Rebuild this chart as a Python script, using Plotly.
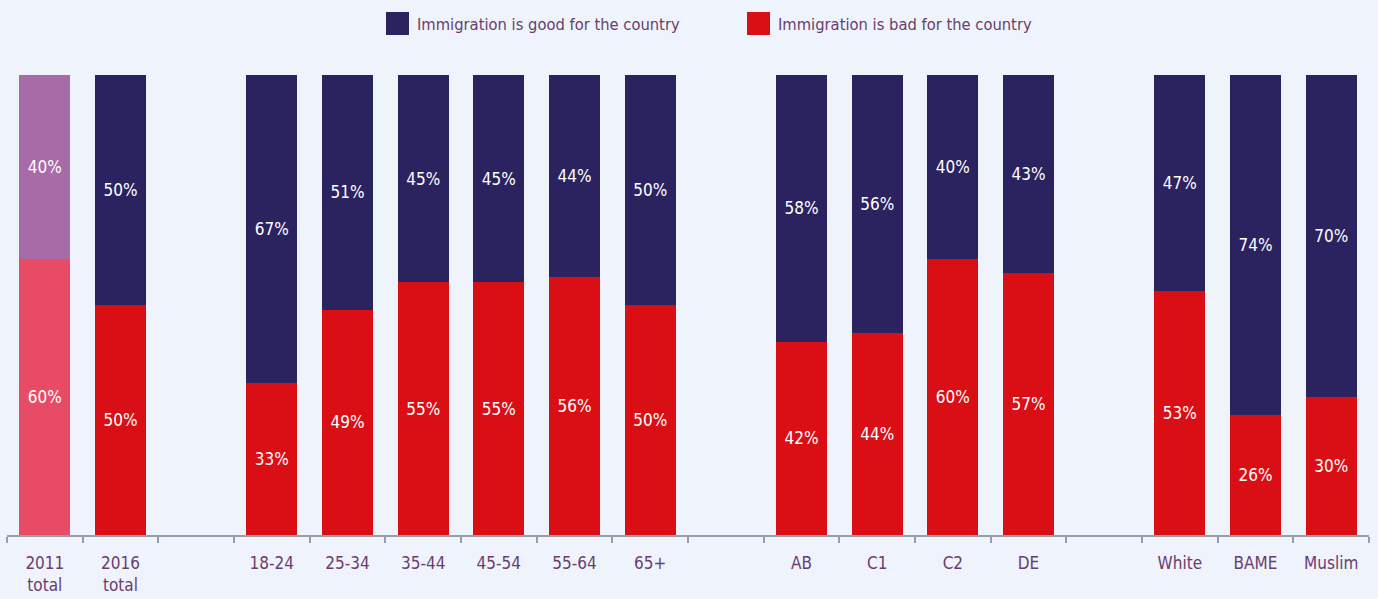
import plotly.graph_objects as go

# Survey groups; an empty slot separates each group on the axis
groups = [
    ["2011<br>total", "2016<br>total"],
    ["18-24", "25-34", "35-44", "45-54", "55-64", "65+"],
    ["AB", "C1", "C2", "DE"],
    ["White", "BAME", "Muslim"],
]
good = [40, 50, 67, 51, 45, 45, 44, 50, 58, 56, 40, 43, 47, 74, 70]
bad = [60, 50, 33, 49, 55, 55, 56, 50, 42, 44, 60, 57, 53, 26, 30]
series_names = ["Immigration is good for the country", "Immigration is bad for the country"]

NAVY = "#2B2360"
RED = "#DA0F15"
NAVY_2011 = "#A86BA8"
RED_2011 = "#E84B65"
TEXT = "#6A3D6E"
BG = "#EFF3FB"
AXIS = "#9C9CB0"
FONT = "Liberation Sans Narrow, DejaVu Sans Condensed, Arial Narrow, sans-serif"

W, H = 1378, 599
ML, MR, MT, MB = 7, 9, 75, 64
PW, PH = W - ML - MR, H - MT - MB

# slot positions, leaving one empty slot between groups
labels, xpos = [], []
pos = 0
for gi, g in enumerate(groups):
    for lab in g:
        labels.append(lab)
        xpos.append(pos)
        pos += 1
    if gi < len(groups) - 1:
        pos += 1
n_slots = pos

good_cols = [NAVY_2011 if l.startswith("2011") else NAVY for l in labels]
bad_cols = [RED_2011 if l.startswith("2011") else RED for l in labels]

fig = go.Figure()
for vals, cols, name in [(bad, bad_cols, series_names[1]), (good, good_cols, series_names[0])]:
    fig.add_trace(go.Bar(
        x=xpos, y=vals, name=name,
        marker=dict(color=cols, line=dict(width=0)),
        text=[f"{v}%" for v in vals], textposition="inside", insidetextanchor="middle",
        textfont=dict(color="white", size=17, family=FONT), width=0.674,
        showlegend=False,
    ))


def px_x(p):
    return (p - ML) / PW


def px_y(p):
    return (H - MB - p) / PH


# legend: coloured swatch followed by the series name
legend_items = [(386, 417, NAVY, series_names[0]), (747, 778, RED, series_names[1])]
for sx, tx, col, name in legend_items:
    fig.add_shape(type="rect", xref="paper", yref="paper",
                  x0=px_x(sx), x1=px_x(sx + 23), y0=px_y(35), y1=px_y(12),
                  fillcolor=col, line=dict(width=0))
    fig.add_annotation(xref="paper", yref="paper", x=px_x(tx), y=px_y(24),
                       xanchor="left", yanchor="middle", showarrow=False,
                       xshift=-2,
                       text=name, font=dict(size=16.4, color=TEXT, family=FONT))

fig.update_layout(
    barmode="stack",
    width=W, height=H,
    margin=dict(l=ML, r=MR, t=MT, b=MB, autoexpand=False),
    paper_bgcolor=BG, plot_bgcolor=BG,
    font=dict(family=FONT, color=TEXT, size=17),
    showlegend=False,
    xaxis=dict(
        range=[-0.5, n_slots - 0.5],
        tickmode="array", tickvals=xpos, ticktext=labels,
        ticks="", showgrid=False, zeroline=False,
        showline=True, linecolor=AXIS, linewidth=1.5,
        tickfont=dict(size=17, color=TEXT, family=FONT),
        ticklabelstandoff=12, automargin=False,
        minor=dict(tickmode="array", tickvals=[i - 0.5 for i in range(n_slots + 1)],
                   ticks="outside", ticklen=6, tickcolor=AXIS, tickwidth=1.5,
                   showgrid=False),
        fixedrange=True,
    ),
    yaxis=dict(range=[0, 100], visible=False, showgrid=False, zeroline=False,
               automargin=False),
)

fig.write_html("out.html")
